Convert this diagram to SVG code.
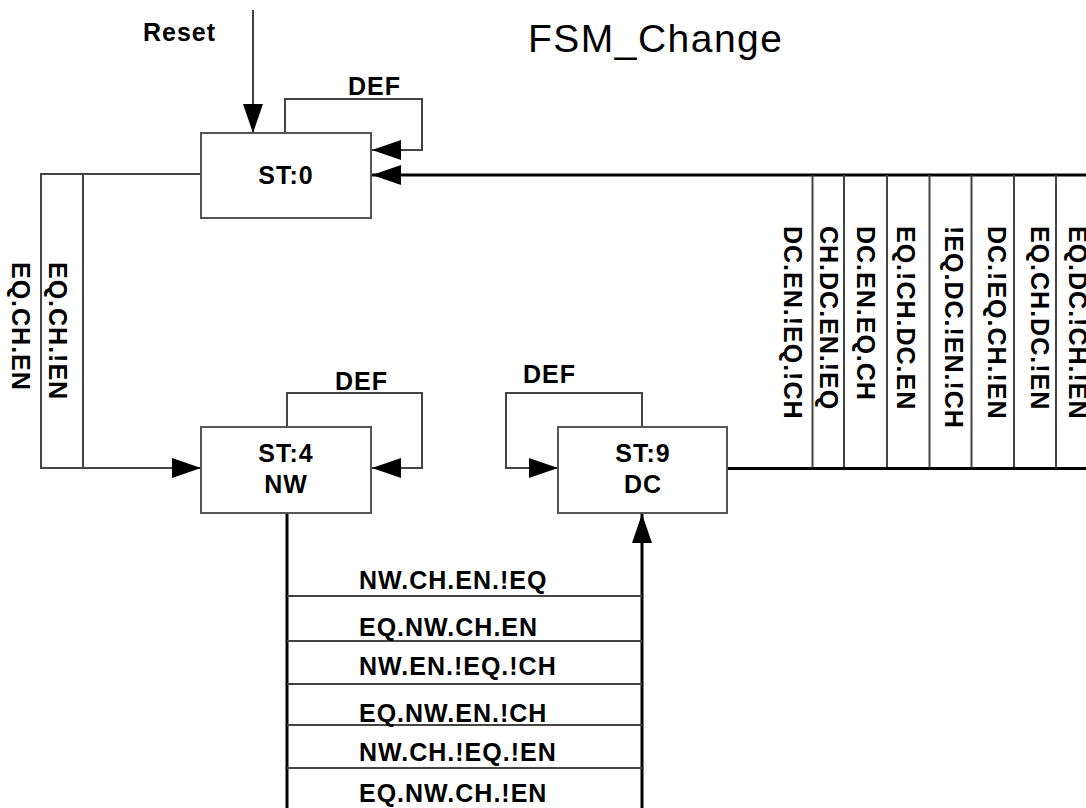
<svg xmlns="http://www.w3.org/2000/svg" width="1086" height="808" viewBox="0 0 1086 808">
<style>
.box{fill:#fff;stroke:#555;stroke-width:2}
.c{fill:none;stroke:#444;stroke-width:2}
.k{fill:none;stroke:#000;stroke-width:3}
.t{font-family:"Liberation Sans",Arial,sans-serif;font-weight:bold;font-size:25px;letter-spacing:1px;fill:#000}
.m{text-anchor:middle}
.title{font-family:"Liberation Sans",Arial,sans-serif;font-size:39px;fill:#000}
</style>
<defs>
<marker id="a" markerUnits="userSpaceOnUse" markerWidth="30" markerHeight="22" refX="29" refY="10" orient="auto">
<path d="M0,0 L29,10 L0,20 z" fill="#000"/>
</marker>
</defs>
<rect width="1086" height="808" fill="#fff"/>
<text class="title" x="528" y="52" textLength="254">FSM_Change</text>
<text class="t" x="143" y="41">Reset</text>
<g id="connectors">
<path class="c" d="M253,10 V133" marker-end="url(#a)"/>
<path class="c" d="M285,133 V99 H422 V150 H372" marker-end="url(#a)"/>
<path class="k" d="M1086,175 H372" marker-end="url(#a)"/>
<path class="c" d="M812.5,175 V468 M844,175 V468 M887,175 V468 M929.5,175 V468 M971.5,175 V468 M1014,175 V468 M1056,175 V468"/>
<path class="k" d="M727,468.5 H1086"/>
<path class="c" d="M201,174 H41 V468 H201" marker-end="url(#a)"/>
<path class="c" d="M83,174 V468"/>
<path class="c" d="M287,427 V393 H422 V468 H372" marker-end="url(#a)"/>
<path class="c" d="M642,427 V393 H506 V468 H558" marker-end="url(#a)"/>
<path class="k" d="M287,513 V808"/>
<path class="k" d="M642,808 V514" marker-end="url(#a)"/>
<path class="c" d="M287,596 H642 M287,641 H642 M287,684 H642 M287,725 H642 M287,768 H642"/>
<text class="t" x="348" y="95">DEF</text>
<text class="t" x="335" y="390">DEF</text>
<text class="t" x="523" y="383">DEF</text>
<text class="t" transform="translate(49,262) rotate(90)">EQ.CH.!EN</text>
<text class="t" transform="translate(12,262) rotate(90)">EQ.CH.EN</text>
<text class="t" transform="translate(784,226) rotate(90)">DC.EN.!EQ.!CH</text>
<text class="t" transform="translate(820,226) rotate(90)">CH.DC.EN.!EQ</text>
<text class="t" transform="translate(857,226) rotate(90)">DC.EN.EQ.CH</text>
<text class="t" transform="translate(897,226) rotate(90)">EQ.!CH.DC.EN</text>
<text class="t" transform="translate(945,226) rotate(90)">!EQ.DC.!EN.!CH</text>
<text class="t" transform="translate(988,226) rotate(90)">DC.!EQ.CH.!EN</text>
<text class="t" transform="translate(1031,226) rotate(90)">EQ.CH.DC.!EN</text>
<text class="t" transform="translate(1069,226) rotate(90)">EQ.DC.!CH.!EN</text>
<text class="t" x="359" y="589">NW.CH.EN.!EQ</text>
<text class="t" x="359" y="636">EQ.NW.CH.EN</text>
<text class="t" x="359" y="675">NW.EN.!EQ.!CH</text>
<text class="t" x="359" y="722">EQ.NW.EN.!CH</text>
<text class="t" x="359" y="761">NW.CH.!EQ.!EN</text>
<text class="t" x="359" y="802">EQ.NW.CH.!EN</text>
</g>
<g id="st0">
<rect class="box" x="201" y="133" width="170" height="85"/>
<text class="t m" x="286" y="184">ST:0</text>
</g>
<g id="st4">
<rect class="box" x="201" y="427" width="170" height="86"/>
<text class="t m" x="286" y="462">ST:4</text>
<text class="t m" x="286" y="493">NW</text>
</g>
<g id="st9">
<rect class="box" x="558" y="427" width="169" height="86"/>
<text class="t m" x="643" y="462">ST:9</text>
<text class="t m" x="643" y="493">DC</text>
</g>
</svg>
